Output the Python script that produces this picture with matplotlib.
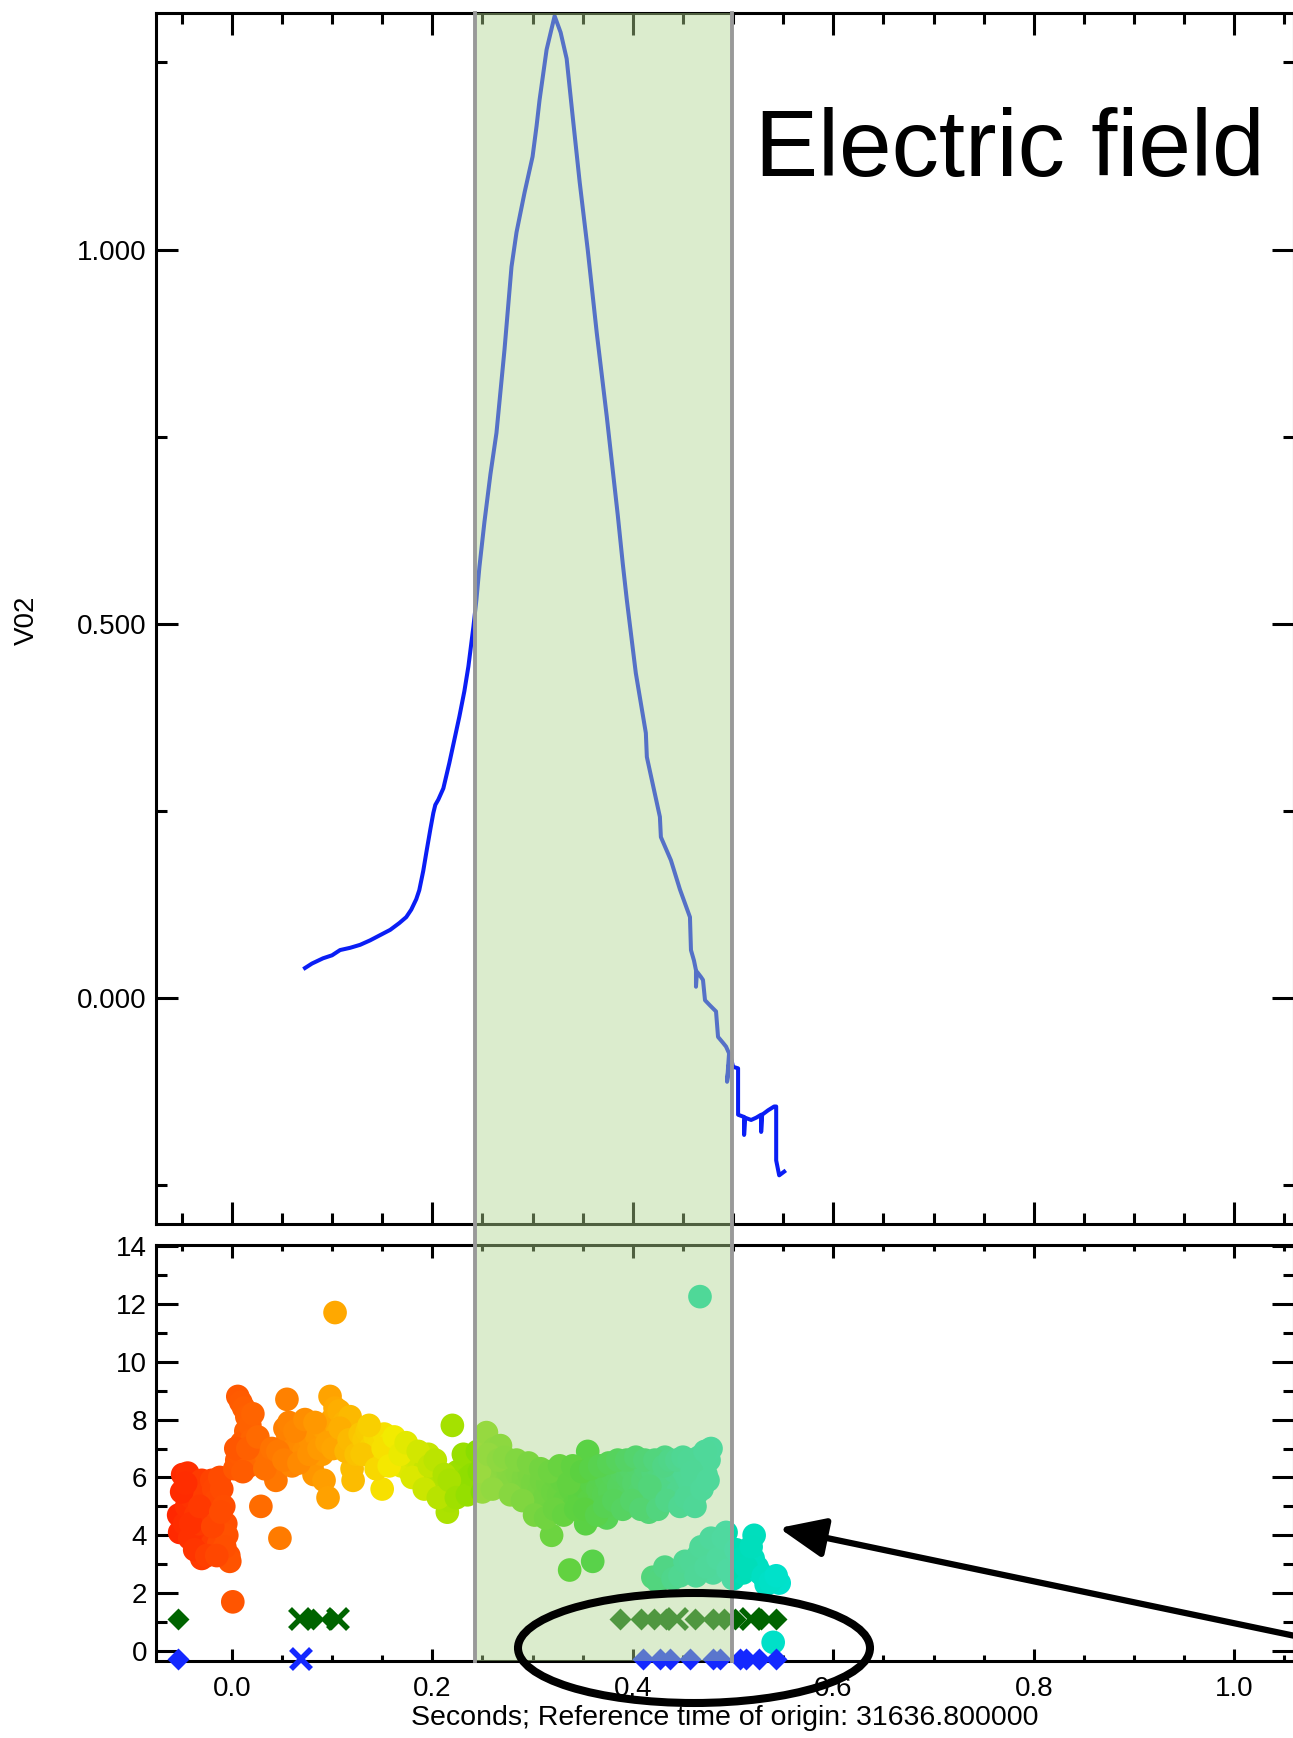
import matplotlib
matplotlib.use("Agg")
import matplotlib.pyplot as plt
import matplotlib.transforms as mtransforms
from matplotlib.colors import LinearSegmentedColormap, Normalize
from matplotlib.patches import Rectangle, Ellipse, FancyArrowPatch
from matplotlib.lines import Line2D
from matplotlib.ticker import MultipleLocator, FormatStrFormatter

plt.rcParams['font.family'] = ['Liberation Sans', 'DejaVu Sans']

# ---- top panel: V02 trace ----
e_t = [0.073, 0.080, 0.091, 0.100, 0.108, 0.118, 0.128, 0.138, 0.148, 0.158,
       0.167, 0.174, 0.179, 0.184, 0.187, 0.191, 0.194, 0.198, 0.201, 0.203,
       0.206, 0.211, 0.217, 0.222, 0.227, 0.232, 0.236, 0.241, 0.244, 0.247,
       0.252, 0.258, 0.264, 0.272, 0.279, 0.284, 0.292, 0.300, 0.304, 0.307,
       0.314, 0.322, 0.328, 0.334, 0.340, 0.347, 0.355, 0.364, 0.374, 0.385,
       0.390, 0.394, 0.403, 0.413, 0.414, 0.420, 0.427, 0.428, 0.438, 0.447,
       0.457, 0.458, 0.461, 0.463, 0.463, 0.464, 0.468, 0.470, 0.472, 0.477,
       0.483, 0.485, 0.490, 0.493, 0.496, 0.494, 0.497, 0.500, 0.505, 0.505,
       0.511, 0.511, 0.512, 0.518, 0.523, 0.528, 0.528, 0.529, 0.535, 0.541,
       0.543, 0.543, 0.546, 0.551]
e_v = [0.040, 0.046, 0.053, 0.057, 0.064, 0.067, 0.071, 0.077, 0.084, 0.091,
       0.100, 0.108, 0.118, 0.132, 0.144, 0.170, 0.194, 0.225, 0.247, 0.258,
       0.265, 0.280, 0.314, 0.345, 0.376, 0.410, 0.443, 0.496, 0.532, 0.576,
       0.636, 0.700, 0.755, 0.866, 0.977, 1.023, 1.076, 1.124, 1.165, 1.200,
       1.267, 1.312, 1.290, 1.255, 1.178, 1.090, 1.000, 0.889, 0.777, 0.645,
       0.580, 0.532, 0.434, 0.354, 0.322, 0.285, 0.242, 0.215, 0.184, 0.145,
       0.108, 0.064, 0.050, 0.037, 0.015, 0.035, 0.028, 0.024, -0.003, -0.010,
       -0.018, -0.052, -0.060, -0.065, -0.074, -0.112, -0.075, -0.092, -0.094, -0.156,
       -0.159, -0.183, -0.160, -0.163, -0.160, -0.156, -0.179, -0.156, -0.150, -0.145,
       -0.145, -0.217, -0.237, -0.232]

# ---- bottom panel: circles ----
circ_t = [-0.049, -0.044, -0.053, -0.052, -0.047, -0.045, -0.040, -0.036, -0.034, -0.030,
          -0.028, -0.026, -0.024, -0.022, -0.030, -0.028, -0.020, -0.018, -0.016, -0.014,
          -0.013, -0.012, -0.010, -0.008, -0.006, -0.005, -0.003, -0.002, -0.038, -0.042,
          -0.033, 0.001,
          -0.050, -0.046, -0.041, -0.037, -0.032, -0.025, -0.019, -0.011, -0.007, -0.015,
          0.003, 0.005, 0.006, 0.009, 0.012, 0.015, 0.014, 0.010, 0.008, 0.018,
          0.020, 0.022, 0.017, 0.025, 0.028, 0.031, 0.029, 0.035, 0.038, 0.042,
          0.044, 0.048, 0.050, 0.053, 0.055, 0.056, 0.058, 0.060, 0.062, 0.065,
          0.068, 0.070, 0.072, 0.075, 0.078, 0.080, 0.082, 0.085, 0.088, 0.090,
          0.092, 0.094, 0.096, 0.098, 0.100, 0.103, 0.103, 0.105, 0.107, 0.110,
          0.112, 0.115, 0.118, 0.120, 0.121, 0.122, 0.125,
          0.004, 0.011, 0.016, 0.021, 0.026, 0.033, 0.040, 0.046, 0.052, 0.057,
          0.063, 0.067, 0.073, 0.077, 0.083, 0.087, 0.095, 0.101, 0.108, 0.114,
          0.117, 0.124,
          0.128, 0.132, 0.135, 0.138, 0.140, 0.143, 0.146, 0.149, 0.150, 0.152,
          0.155, 0.158, 0.160, 0.163, 0.166, 0.169, 0.172, 0.175, 0.178, 0.181,
          0.184, 0.187, 0.190, 0.193, 0.196, 0.199, 0.201, 0.204, 0.207, 0.210,
          0.213, 0.215, 0.218, 0.220, 0.222, 0.225, 0.228, 0.230, 0.233, 0.236,
          0.239, 0.241,
          0.130, 0.137, 0.144, 0.151, 0.157, 0.162, 0.168, 0.174, 0.180, 0.186,
          0.192, 0.197, 0.203, 0.206, 0.212, 0.217, 0.224, 0.231, 0.235, 0.240,
          0.245, 0.250, 0.254, 0.258, 0.262, 0.265, 0.268, 0.270, 0.273, 0.276,
          0.279, 0.282, 0.285, 0.288, 0.291, 0.294, 0.297, 0.300, 0.300, 0.303,
          0.306, 0.309, 0.312, 0.315, 0.318, 0.319, 0.320, 0.323, 0.326, 0.329,
          0.332, 0.335, 0.337, 0.338, 0.341, 0.344, 0.347, 0.350, 0.353, 0.355,
          0.356, 0.359, 0.360, 0.362, 0.365, 0.368, 0.371, 0.374, 0.374, 0.377,
          0.380, 0.383, 0.386, 0.389, 0.392, 0.395, 0.398, 0.401, 0.404, 0.407,
          0.410, 0.413, 0.416, 0.418, 0.420, 0.423, 0.426, 0.429, 0.432, 0.435,
          0.438, 0.440, 0.442, 0.445, 0.448, 0.451, 0.454, 0.457, 0.460, 0.463,
          0.466, 0.467, 0.470, 0.473, 0.476, 0.478,
          0.247, 0.256, 0.260, 0.266, 0.272, 0.278, 0.284, 0.290, 0.296, 0.302,
          0.308, 0.313, 0.317, 0.322, 0.327, 0.331, 0.336, 0.340, 0.343, 0.349,
          0.352, 0.358, 0.364, 0.367, 0.372, 0.376, 0.381, 0.385, 0.390, 0.394,
          0.399, 0.403, 0.408, 0.412, 0.417, 0.422, 0.425, 0.431, 0.434, 0.437,
          0.444, 0.447, 0.450, 0.453, 0.456, 0.459, 0.462, 0.469, 0.472, 0.475,
          0.420, 0.428, 0.435, 0.443, 0.450, 0.455, 0.460, 0.465, 0.470, 0.475,
          0.480, 0.483, 0.488, 0.493, 0.497, 0.500, 0.500, 0.505, 0.510, 0.515,
          0.521, 0.520, 0.524, 0.527, 0.533, 0.540, 0.546, 0.540,
          0.425, 0.432, 0.440, 0.447, 0.452, 0.458, 0.463, 0.468, 0.473, 0.478,
          0.485, 0.490, 0.495, 0.503, 0.508, 0.513, 0.518, 0.530, 0.537, 0.543]
circ_v = [6.1, 6.15, 4.7, 4.1, 4.4, 5.0, 5.3, 4.7, 5.6, 5.9,
          5.4, 4.9, 4.2, 3.8, 3.2, 3.6, 5.9, 5.6, 5.2, 4.6,
          3.7, 6.0, 5.6, 5.0, 4.4, 4.0, 3.3, 3.1, 4.2, 3.9,
          4.4, 1.7,
          5.5, 5.8, 4.4, 3.5, 5.0, 3.3, 4.3, 4.8, 3.6, 3.3,
          6.3, 6.6, 8.8, 8.6, 8.4, 8.1, 7.6, 7.2, 6.8, 7.8,
          7.3, 6.8, 6.4, 6.5, 6.9, 7.0, 5.0, 6.7, 6.3, 6.6,
          5.9, 3.9, 7.0, 7.7, 8.7, 7.4, 6.8, 6.4, 7.0, 6.7,
          7.2, 7.5, 6.9, 7.6, 7.3, 6.4, 6.1, 7.4, 7.8, 6.8,
          5.9, 7.6, 5.3, 8.8, 8.0, 11.7, 8.4, 7.5, 8.3, 7.1,
          7.9, 7.6, 8.1, 6.3, 5.9, 7.4, 7.2,
          7.0, 6.2, 7.0, 8.2, 7.4, 6.3, 7.0, 6.9, 6.6, 7.9,
          7.6, 6.5, 8.0, 6.8, 7.9, 7.0, 7.2, 7.0, 7.7, 6.9,
          7.3, 6.8,
          7.5, 7.3, 7.6, 7.0, 6.7, 7.4, 7.1, 6.5, 5.6, 7.5,
          6.9, 7.2, 6.6, 6.9, 7.1, 6.4, 6.9, 6.6, 6.2, 6.7,
          6.1, 6.5, 5.9, 6.3, 6.8, 6.0, 6.2, 5.7, 6.0, 5.6,
          5.4, 4.8, 5.2, 7.8, 5.9, 6.2, 5.6, 6.3, 5.8, 6.0,
          5.5, 6.6,
          6.8, 7.8, 6.3, 7.0, 6.4, 7.4, 6.8, 7.2, 6.0, 6.9,
          5.6, 6.4, 6.6, 5.3, 6.1, 5.9, 5.3, 6.8, 5.4, 6.1,
          6.9, 5.5, 7.55, 6.4, 7.0, 6.0, 7.1, 6.4, 5.8, 6.2,
          5.9, 6.3, 6.1, 5.6, 6.0, 5.7, 6.1, 5.2, 5.8, 6.0,
          5.5, 5.9, 5.3, 5.8, 4.8, 4.0, 5.5, 6.0, 5.4, 5.9,
          5.2, 6.2, 2.8, 5.6, 5.0, 5.8, 5.3, 5.7, 4.4, 6.9,
          5.2, 5.8, 3.1, 5.0, 5.6, 6.0, 5.4, 4.6, 5.9, 5.5,
          6.1, 6.2, 5.7, 6.2, 5.3, 6.0, 6.3, 5.8, 6.4, 5.5,
          5.9, 6.3, 4.8, 5.4, 6.2, 5.8, 6.3, 5.9, 6.7, 6.0,
          5.4, 5.2, 6.2, 5.5, 6.4, 6.2, 6.0, 5.8, 5.6, 5.4,
          6.7, 12.25, 6.3, 6.1, 6.6, 7.0,
          6.2, 6.8, 5.6, 6.6, 6.7, 5.4, 6.6, 5.2, 6.5, 4.7,
          6.3, 4.6, 6.2, 4.9, 6.4, 4.7, 5.8, 6.4, 4.9, 6.2,
          4.9, 6.3, 4.7, 6.4, 5.0, 6.5, 5.2, 6.6, 4.9, 6.6,
          5.2, 6.7, 4.9, 6.6, 5.7, 6.6, 4.9, 6.4, 5.2, 6.6,
          6.6, 5.0, 6.7, 5.3, 6.6, 6.2, 5.0, 5.6, 6.9, 5.9,
          2.55, 2.6, 2.75, 2.7, 2.9, 2.75, 2.85, 3.3, 3.0, 3.5,
          2.7, 3.85, 3.6, 4.1, 3.5, 3.3, 2.5, 3.0, 2.7, 3.3,
          4.0, 3.2, 2.9, 2.7, 2.3, 2.5, 2.35, 0.3,
          2.4, 2.9, 2.5, 2.6, 3.1, 3.1, 2.6, 3.6, 2.9, 3.9,
          3.2, 3.9, 2.8, 3.5, 3.2, 2.9, 3.6, 2.6, 2.4, 2.6]

# diamonds / crosses near the bottom
gd_t = [-0.054, 0.081, 0.099, 0.387, 0.408, 0.421, 0.433, 0.462, 0.480, 0.491, 0.502, 0.528, 0.543]
gd_v = [1.12] * len(gd_t)
gx_t = [0.068, 0.106, 0.444, 0.518]
gx_v = [1.12] * len(gx_t)
bd_t = [-0.054, 0.410, 0.427, 0.437, 0.457, 0.480, 0.487, 0.507, 0.513, 0.526, 0.543]
bd_v = [-0.29] * len(bd_t)
bx_t = [0.0695]
bx_v = [-0.29]

band_t = [0.243, 0.499]

# colour ramp along time
cmap_pos = [-0.06, 0.0, 0.10, 0.16, 0.22, 0.35, 0.45, 0.55]
cmap_col = ['#ff2300', '#ff5500', '#ffa500', '#f5eb00', '#a5e100', '#14cd00', '#00d796', '#00e1cd']

W, H = 1293, 1738
fig = plt.figure(figsize=(W / 100, H / 100), dpi=100)


def fx(px):
    return px / W


def fy(py):
    return 1 - py / H


ax1 = fig.add_axes([fx(156), fy(1224), fx(1294) - fx(156), fy(13) - fy(1224)])
ax2 = fig.add_axes([fx(156), fy(1661), fx(1294) - fx(156), fy(1245) - fy(1661)])

ax1.plot(e_t, e_v, color='#0a1ef5', lw=2.9)
ax1.set_xlim(-0.0756, 1.0595)
ax1.set_ylim(-0.302, 1.316)

lo, hi = cmap_pos[0], cmap_pos[-1]
cmap = LinearSegmentedColormap.from_list(
    'ramp', [((p - lo) / (hi - lo), c) for p, c in zip(cmap_pos, cmap_col)])
ax2.scatter(circ_t, circ_v, c=circ_t, cmap=cmap, norm=Normalize(lo, hi),
            s=290, edgecolors='none', zorder=2)
ax2.plot(gd_t, gd_v, 'D', color='#006400', ms=11.5, mec='none', zorder=3)
ax2.plot(gx_t, gx_v, 'x', color='#006400', ms=14, mew=4, zorder=3)
ax2.plot(bd_t, bd_v, 'D', color='#1428ff', ms=11.5, mec='none', zorder=3, clip_on=False)
ax2.plot(bx_t, bx_v, 'x', color='#1428ff', ms=14, mew=4, zorder=3, clip_on=False)
ax2.set_xlim(-0.0756, 1.0595)
ax2.set_ylim(-0.345, 14.035)

for ax in (ax1, ax2):
    for sp in ax.spines.values():
        sp.set_linewidth(2.2)
    ax.tick_params(which='both', direction='in', top=True, right=True,
                   width=2.2, labelsize=20)
    ax.xaxis.set_major_locator(MultipleLocator(0.2))
    ax.xaxis.set_minor_locator(MultipleLocator(0.05))

ax1.yaxis.set_major_locator(MultipleLocator(0.5))
ax1.yaxis.set_minor_locator(MultipleLocator(0.25))
ax1.yaxis.set_major_formatter(FormatStrFormatter('%.3f'))
ax1.tick_params(axis='both', which='major', length=16)
ax1.tick_params(axis='both', which='minor', length=8)
ax1.tick_params(axis='y', pad=6.5)
ax1.tick_params(axis='x', labelbottom=False)

ax2.yaxis.set_major_locator(MultipleLocator(2))
ax2.yaxis.set_minor_locator(MultipleLocator(1))
ax2.xaxis.set_major_formatter(FormatStrFormatter('%.1f'))
ax2.tick_params(axis='y', which='major', length=16, pad=6.5)
ax2.tick_params(axis='y', which='minor', length=8)
ax2.tick_params(axis='x', which='major', length=9, pad=11)
ax2.tick_params(axis='x', which='minor', length=4.5)
ax2.set_xlabel('Seconds; Reference time of origin: 31636.800000', fontsize=20.5, labelpad=2)

fig.text(fx(27), fy(620), 'V02', rotation=90, ha='center', va='center', fontsize=20)
fig.text(fx(755), fy(176), 'Electric field', ha='left', va='baseline', fontsize=68)

# translucent highlight spanning both panels
trans = mtransforms.blended_transform_factory(ax2.transData, fig.transFigure)
fig.add_artist(Rectangle((band_t[0], fy(1661)), band_t[1] - band_t[0], fy(13) - fy(1661),
                         transform=trans, facecolor='#b1d790', alpha=0.45,
                         edgecolor='none', zorder=5))
for t in band_t:
    fig.add_artist(Line2D([t, t], [fy(1661), fy(13)], transform=trans,
                          color='#999999', lw=2.8, zorder=6))

# annotation ellipse and arrow
fig.add_artist(Ellipse((fx(694), fy(1648)), 352 / W, 110 / H, transform=fig.transFigure,
                       fill=False, lw=5.8, edgecolor='black', zorder=7))
fig.add_artist(FancyArrowPatch((fx(1300), fy(1637)), (fx(779), fy(1528)),
                               transform=fig.transFigure,
                               arrowstyle='-|>,head_length=28,head_width=12',
                               mutation_scale=1, lw=4.5, color='black',
                               shrinkA=0, shrinkB=0, zorder=7))

fig.savefig('out.png', dpi=100)
